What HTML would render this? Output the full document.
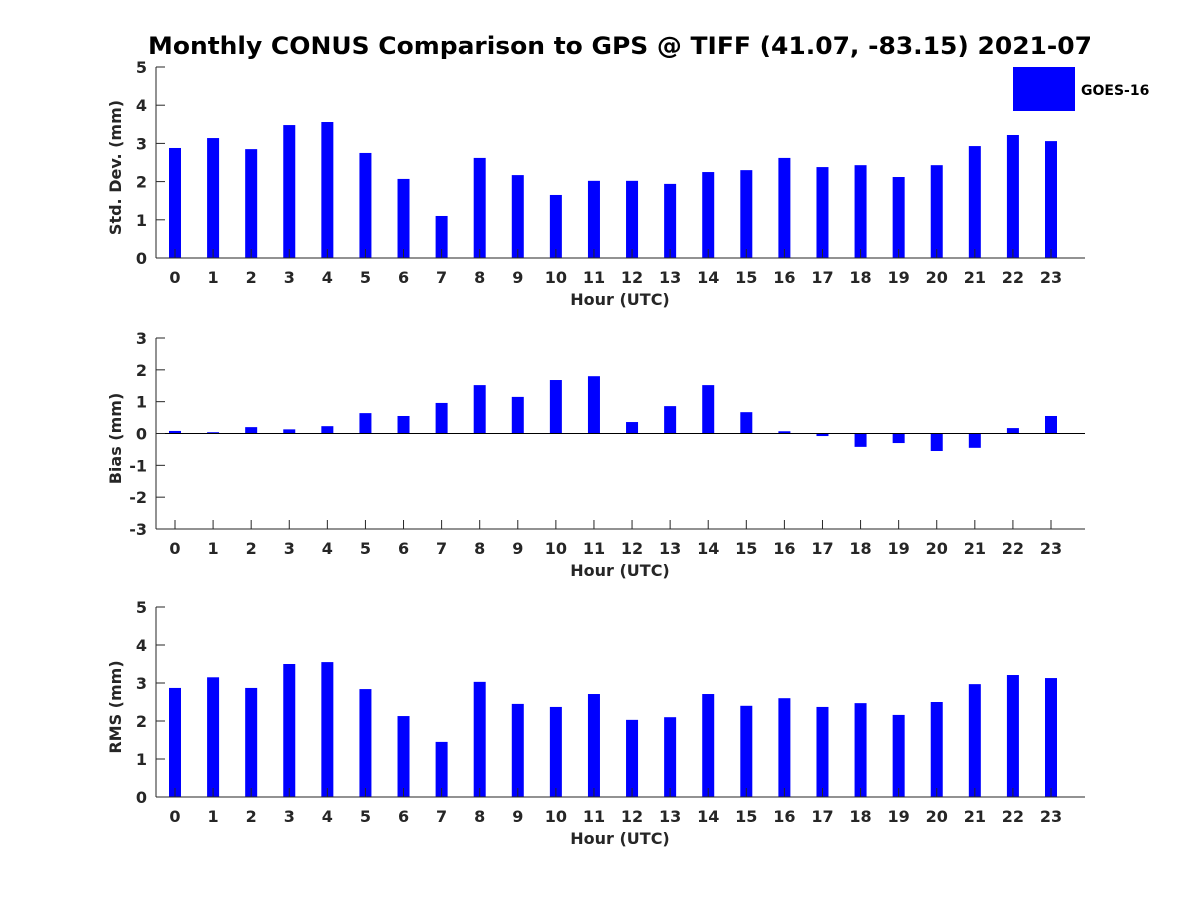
<!DOCTYPE html>
<html><head><meta charset="utf-8"><style>
body{margin:0;background:#fff}
svg text{font-family:"DejaVu Sans","Liberation Sans",sans-serif;font-weight:bold}
</style></head><body>
<svg id="chart" width="1200" height="900" xmlns="http://www.w3.org/2000/svg">
<rect width="1200" height="900" fill="#fff"/>
<text x="620" y="54" text-anchor="middle" font-size="24" fill="#000" textLength="944" lengthAdjust="spacingAndGlyphs">Monthly CONUS Comparison to GPS @ TIFF (41.07, -83.15) 2021-07</text>
<rect x="1013" y="67" width="62" height="44" fill="#0000ff"/>
<text x="1081" y="95" font-size="14" fill="#000">GOES-16</text>
</svg>
<script>
const hours = [0,1,2,3,4,5,6,7,8,9,10,11,12,13,14,15,16,17,18,19,20,21,22,23];
const stdValues = [2.88,3.14,2.85,3.48,3.56,2.75,2.07,1.1,2.62,2.17,1.65,2.02,2.02,1.94,2.25,2.3,2.62,2.38,2.43,2.12,2.43,2.93,3.22,3.06];
const biasValues = [0.08,0.04,0.2,0.13,0.23,0.64,0.55,0.96,1.52,1.15,1.68,1.8,0.36,0.86,1.52,0.67,0.07,-0.08,-0.42,-0.3,-0.55,-0.45,0.17,0.55];
const rmsValues = [2.87,3.15,2.87,3.5,3.55,2.84,2.13,1.45,3.03,2.45,2.37,2.71,2.03,2.1,2.71,2.4,2.6,2.37,2.47,2.16,2.5,2.97,3.21,3.13];
const stdTicks = [0,1,2,3,4,5];
const biasTicks = [-3,-2,-1,0,1,2,3];
const rmsTicks = [0,1,2,3,4,5];

const NS = "http://www.w3.org/2000/svg";
const svg = document.getElementById('chart');
function mk(tag, attrs, parent){
  const e = document.createElementNS(NS, tag);
  for (const k in attrs) e.setAttribute(k, attrs[k]);
  (parent||svg).appendChild(e);
  return e;
}
const X0 = 156, X1 = 1085;
function xs(h){ return 175 + h * (1051 - 175) / 23; }

function panel(key, vals, ticks, top, bottom, ymin, ymax, ylabel){
  const g = mk('g', {});
  
  
  const ys = v => bottom - (v - ymin) / (ymax - ymin) * (bottom - top);
  const base = ys(Math.max(ymin, 0));
  vals.forEach((v, i) => {
    const y1 = ys(v), y0 = base;
    const r = mk('rect', {x: xs(hours[i]) - 6, y: Math.min(y0, y1), width: 12, height: Math.abs(y1 - y0), fill: '#0000ff'}, g);
    
    
  });
  if (ymin < 0) mk('line', {x1: X0, x2: X1, y1: base, y2: base, stroke: '#000', 'stroke-width': 1}, g);
  mk('line', {x1: X0, x2: X0, y1: top, y2: bottom, stroke: '#262626', 'stroke-width': 1}, g);
  mk('line', {x1: X0, x2: X1, y1: bottom, y2: bottom, stroke: '#262626', 'stroke-width': 1}, g);
  ticks.forEach(t => {
    const y = ys(t);
    mk('line', {x1: X0, x2: X0 + 9, y1: y, y2: y, stroke: '#262626'}, g);
    const tx = mk('text', {x: X0 - 9, y: y + 6, 'text-anchor': 'end', 'font-size': 16, fill: '#262626'}, g);
    tx.textContent = t;
    
    
  });
  hours.forEach(h => {
    const x = xs(h);
    mk('line', {x1: x, x2: x, y1: bottom, y2: bottom - 9, stroke: '#262626'}, g);
    const tx = mk('text', {x: x, y: bottom + 25, 'text-anchor': 'middle', 'font-size': 16, fill: '#262626'}, g);
    tx.textContent = h;
    
    
  });
  const xl = mk('text', {x: 620, y: bottom + 47, 'text-anchor': 'middle', 'font-size': 16, fill: '#262626'}, g);
  xl.textContent = 'Hour (UTC)';
  
  
  const cy = (top + bottom) / 2;
  const yl = mk('text', {x: 121, y: cy + 5, 'text-anchor': 'middle', 'font-size': 16, fill: '#262626', transform: 'rotate(-90 121 ' + (cy + 5) + ')'}, g);
  yl.textContent = ylabel;
  
  
}
panel('std', stdValues, stdTicks, 67, 258, 0, 5, 'Std. Dev. (mm)');
panel('bias', biasValues, biasTicks, 338, 529, -3, 3, 'Bias (mm)');
panel('rms', rmsValues, rmsTicks, 607, 797, 0, 5, 'RMS (mm)');
</script>
</body></html>
